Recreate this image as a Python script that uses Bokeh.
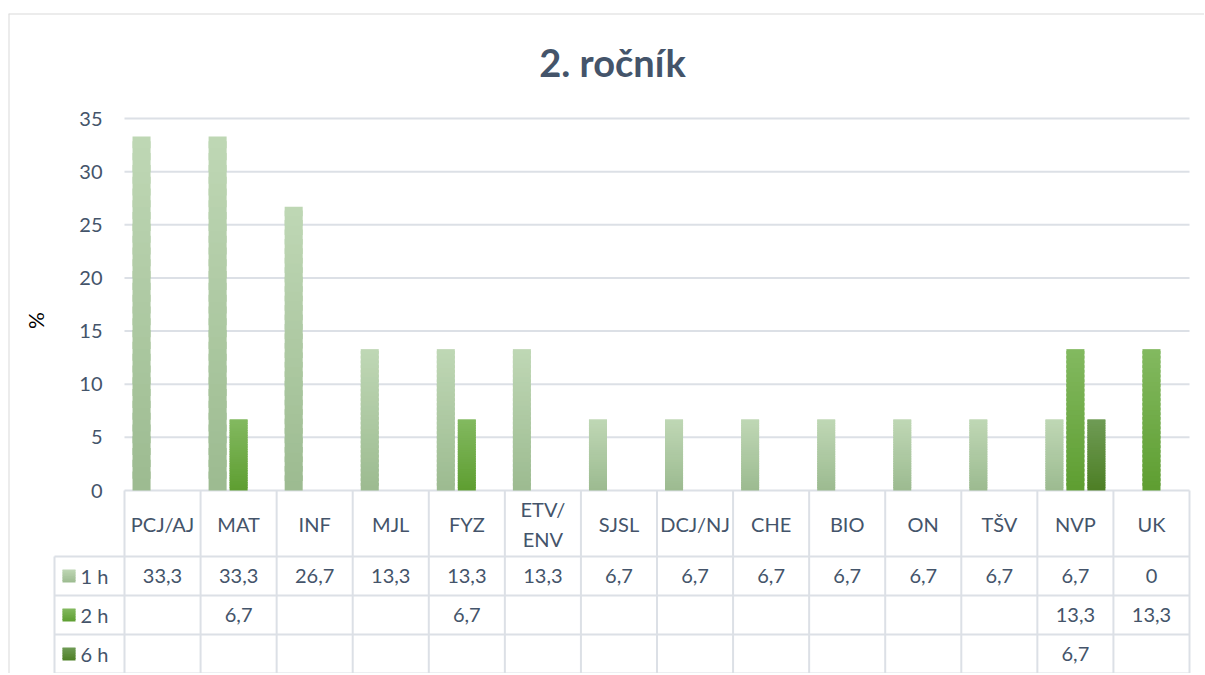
import math
from bokeh.plotting import figure
from bokeh.models import Range1d, FixedTicker
from bokeh.embed import file_html
from bokeh.resources import INLINE
from bokeh.core.properties import value

# ---------------- data ----------------
title_text = "2. ročník"
y_label = "%"
categories = ["PCJ/AJ", "MAT", "INF", "MJL", "FYZ", "ETV/\nENV", "SJSL",
              "DCJ/NJ", "CHE", "BIO", "ON", "TŠV", "NVP", "UK"]
series_names = ["1 h", "2 h", "6 h"]
h1 = [33.3, 33.3, 26.7, 13.3, 13.3, 13.3, 6.7, 6.7, 6.7, 6.7, 6.7, 6.7, 6.7, 0]
h2 = [None, 6.7, None, None, 6.7, None, None, None, None, None, None, None, 13.3, 13.3]
h6 = [None, None, None, None, None, None, None, None, None, None, None, None, 6.7, None]
y_ticks = [0, 5, 10, 15, 20, 25, 30, 35]

# ---------------- style / layout ----------------
FONT = "Lato"
TXT = "#44546A"
GRID = "#DCE0E6"
BORDER = "#D9D9D9"
grads = [("#BFD7B5", "#9CBB90"),   # (top, bottom) 1 h
         ("#83B960", "#5E9E31"),   # 2 h
         ("#6F9B55", "#4D7F25")]   # 6 h
offsets = [-0.276, 0.0, 0.276]
BAR_W = 0.237
NSL = 30

# pixel geometry of the chart box (canvas pixels)
W, H = 1204, 673
BOX_L, BOX_T = 8, 13            # outer chart border
PLOT_L, PLOT_R = 124, 1189      # plot area horizontal extent
Y0_PX, YTOP_PX = 490, 118       # pixel rows of value 0 and of top tick
LEG_PX = 70                     # legend column width of the data table
HDR_PX, ROW_PX = 66, 39         # header row and data row heights
TITLE_X, TITLE_Y = 612, 61      # title centre
YLAB_X, YLAB_Y = 35, 320        # y-axis label centre

ncat = len(categories)
nrow = len(series_names)
ymax = max(y_ticks)
cw = (PLOT_R - PLOT_L) / ncat               # px per category
vu = (Y0_PX - YTOP_PX) / ymax               # px per value unit
x_start = -(PLOT_L - BOX_L) / cw
x_end = ncat + (W - PLOT_R) / cw
y_end = ymax + (YTOP_PX - BOX_T) / vu
y_start = -(H - Y0_PX) / vu
LEG = LEG_PX / cw
HDR = HDR_PX / vu
ROW = ROW_PX / vu


def hex2rgb(h):
    h = h.lstrip("#")
    return tuple(int(h[i:i + 2], 16) for i in (0, 2, 4))


def mix(c_bottom, c_top, t):
    a, b = hex2rgb(c_bottom), hex2rgb(c_top)
    return "#%02x%02x%02x" % tuple(round(a[k] + (b[k] - a[k]) * t) for k in range(3))


def fmt(v):
    if v is None:
        return ""
    if float(v).is_integer():
        return str(int(v))
    return ("%.1f" % v).replace(".", ",")


series_vals = [h1, h2, h6]

p = figure(width=W, height=H, output_backend="svg", toolbar_location=None,
           x_range=Range1d(x_start, x_end), y_range=Range1d(y_start, y_end),
           x_axis_location=None, min_border_left=BOX_L, min_border_right=0,
           min_border_top=BOX_T, min_border_bottom=0)
p.outline_line_color = None
p.grid.grid_line_color = None

ya = p.yaxis[0]
ya.ticker = FixedTicker(ticks=y_ticks)
ya.axis_line_color = None
ya.major_tick_line_color = None
ya.minor_tick_line_color = None
ya.major_tick_out = 0
ya.major_tick_in = 0
ya.minor_tick_out = 0
ya.minor_tick_in = 0
ya.major_label_standoff = -(PLOT_L - 22 - BOX_L)
ya.major_label_text_font = FONT
ya.major_label_text_font_size = "20px"
ya.major_label_text_color = TXT

# outer chart border (left and top)
p.segment(x0=[x_start, x_start], y0=[y_start, y_end], x1=[x_start, x_end], y1=[y_end, y_end],
          line_color=BORDER, line_width=2)

# title
p.text(x=[(TITLE_X - PLOT_L) / cw], y=[(Y0_PX - TITLE_Y) / vu], text=[title_text],
       text_align="center", text_baseline="middle", text_font=value(FONT),
       text_font_size="38px", text_font_style="bold", text_color=TXT)

# y-axis label
p.text(x=[(YLAB_X - PLOT_L) / cw], y=[(Y0_PX - YLAB_Y) / vu], text=[y_label],
       angle=math.pi / 2, text_align="center", text_baseline="middle",
       text_font=value(FONT), text_font_size="21px", text_color="#000000")

# horizontal gridlines over the plot area
p.segment(x0=[0] * len(y_ticks), x1=[ncat] * len(y_ticks), y0=y_ticks, y1=y_ticks,
          line_color=GRID, line_width=2)

# gradient bars (each bar = stacked thin slices)
for s, vals in enumerate(series_vals):
    top_c, bot_c = grads[s]
    xs, bs, ts, cs = [], [], [], []
    for i, v in enumerate(vals):
        if v is None or v == 0:
            continue
        for j in range(NSL):
            xs.append(i + 0.5 + offsets[s])
            bs.append(v * j / NSL)
            ts.append(min(v, v * (j + 1.6) / NSL))
            cs.append(mix(bot_c, top_c, (j + 0.5) / NSL))
    p.vbar(x=xs, bottom=bs, top=ts, width=BAR_W, fill_color=cs, line_color=None)

# ---------------- data table ----------------
ybot = -(HDR + nrow * ROW)
x0, y0, x1, y1 = [], [], [], []
for k in range(ncat + 1):
    x0.append(k); x1.append(k); y0.append(0); y1.append(ybot)
x0.append(-LEG); x1.append(-LEG); y0.append(-HDR); y1.append(ybot)
for r in range(nrow + 1):
    x0.append(-LEG); x1.append(ncat); y0.append(-HDR - r * ROW); y1.append(-HDR - r * ROW)
p.segment(x0=x0, y0=y0, x1=x1, y1=y1, line_color=GRID, line_width=2)

p.text(x=[i + 0.5 for i in range(ncat)], y=[-HDR / 2] * ncat, text=categories,
       text_align="center", text_baseline="middle", text_font=value(FONT),
       text_font_size="20px", text_color=TXT, text_line_height=1.25)

for r, vals in enumerate(series_vals):
    yc = -HDR - (r + 0.5) * ROW
    p.text(x=[i + 0.5 for i in range(ncat)], y=[yc] * ncat, text=[fmt(v) for v in vals],
           text_align="center", text_baseline="middle", text_font=value(FONT),
           text_font_size="20px", text_color=TXT)
    # legend swatch with vertical gradient
    top_c, bot_c = grads[r]
    ns = 8
    half = 6.5 / vu
    sl, sr = -LEG + 8 / cw, -LEG + 21 / cw
    lefts, rights, tops, bots, cols = [], [], [], [], []
    for j in range(ns):
        lefts.append(sl); rights.append(sr)
        bots.append(yc - half + 2 * half * j / ns)
        tops.append(yc - half + 2 * half * min(1, (j + 1.5) / ns))
        cols.append(mix(bot_c, top_c, (j + 0.5) / ns))
    p.quad(left=lefts, right=rights, top=tops, bottom=bots, fill_color=cols, line_color=None)
    p.text(x=[-LEG + 26 / cw], y=[yc], text=[series_names[r]], text_align="left",
           text_baseline="middle", text_font=value(FONT), text_font_size="20px",
           text_color=TXT)

open("out.html", "w").write(file_html(p, INLINE))
